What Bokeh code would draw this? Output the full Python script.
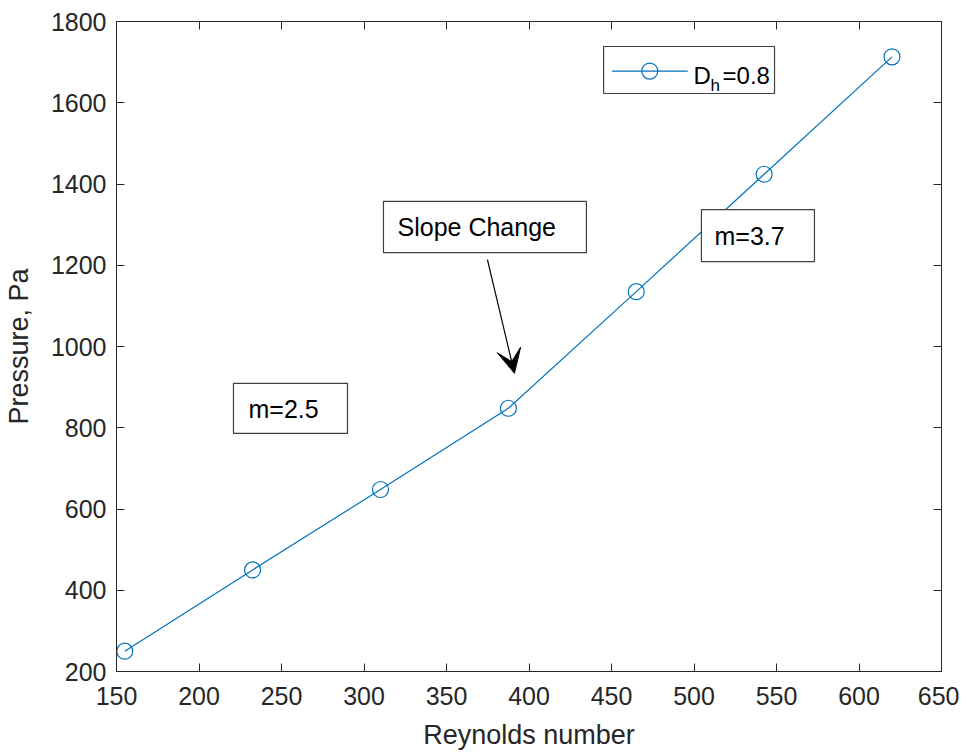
from bokeh.plotting import figure
from bokeh.models import (Range1d, FixedTicker, LinearAxis, CustomJSTickFormatter,
                          BoxAnnotation, Label, Arrow, VeeHead, ColumnDataSource)
from bokeh.embed import file_html
from bokeh.resources import INLINE

# ---- data ----
reynolds = [155, 232.5, 310, 387.5, 465, 542.5, 620]
pressure = [250, 450, 648, 848, 1135, 1424, 1713]
x_ticks = [150, 200, 250, 300, 350, 400, 450, 500, 550, 600, 650]
y_ticks = [200, 400, 600, 800, 1000, 1200, 1400, 1600, 1800]
series_name = "D"
series_sub = "h"
series_value = "=0.8"
note_left = "m=2.5"
note_right = "m=3.7"
note_arrow = "Slope Change"

FONT = "Liberation Sans"
AX = "#262626"
BLUE = "#0072BD"

p = figure(width=959, height=753, output_backend="svg", toolbar_location=None,
           x_range=Range1d(150, 650), y_range=Range1d(200, 1800),
           min_border_left=116, min_border_top=21, min_border_right=18, min_border_bottom=82)
p.grid.visible = False
p.outline_line_color = AX
p.outline_line_width = 1
p.background_fill_color = "white"
p.border_fill_color = "white"

def style_axis(ax, ticks):
    ax.ticker = FixedTicker(ticks=ticks)
    ax.axis_line_color = AX
    ax.major_tick_line_color = AX
    ax.major_tick_in = 8
    ax.major_tick_out = 0
    ax.minor_tick_line_color = None
    ax.major_label_text_font = FONT
    ax.major_label_text_font_size = "25px"
    ax.major_label_text_color = AX
    ax.axis_label_text_font = FONT
    ax.axis_label_text_font_size = "27px"
    ax.axis_label_text_font_style = "normal"
    ax.axis_label_text_color = AX

style_axis(p.xaxis[0], x_ticks)
style_axis(p.yaxis[0], y_ticks)
p.xaxis[0].axis_label = "Reynolds number"
p.yaxis[0].axis_label = "Pressure, Pa"
p.xaxis[0].major_label_standoff = 15
p.yaxis[0].major_label_standoff = 10
p.xaxis[0].axis_label_standoff = 12
p.yaxis[0].axis_label_standoff = 14

top_ax = LinearAxis(formatter=CustomJSTickFormatter(code="return ''"))
right_ax = LinearAxis(formatter=CustomJSTickFormatter(code="return ''"))
style_axis(top_ax, x_ticks)
style_axis(right_ax, y_ticks)
p.add_layout(top_ax, "above")
p.add_layout(right_ax, "right")

src = ColumnDataSource(dict(x=reynolds, y=pressure))
p.line("x", "y", source=src, line_color=BLUE, line_width=1.2)
p.scatter("x", "y", source=src, marker="circle", size=16, fill_color=None,
          line_color=BLUE, line_width=1.2)

def text_box(left, right, top, bottom):
    p.add_layout(BoxAnnotation(left=left, right=right, top=top, bottom=bottom,
                               fill_color="white", fill_alpha=1.0,
                               line_color="#404040", line_width=1.2, line_alpha=1.0))

def label(x, y, text, size="25px", baseline="middle"):
    p.add_layout(Label(x=x, y=y, text=text, text_font=FONT, text_font_size=size,
                       text_color="black", text_baseline=baseline, text_align="left"))

# annotation boxes
text_box(220.9, 290.0, 909, 786)
label(230.0, 847, note_left)
text_box(504.5, 573.0, 1337, 1209)
label(512.4, 1273, note_right)
text_box(311.8, 434.8, 1357, 1231)
label(320.3, 1294, note_arrow)

p.add_layout(Arrow(x_start=374.8, y_start=1214, x_end=391.2, y_end=934,
                   line_color="black", line_width=1.2,
                   end=VeeHead(size=24, fill_color="black", line_color="black")))

# legend
text_box(445.2, 548.8, 1738.5, 1622.8)
p.line([450.4, 496.2], [1678, 1678], line_color=BLUE, line_width=1.2, level="overlay")
p.scatter([473.2], [1678], marker="circle", size=16, fill_color=None,
          line_color=BLUE, line_width=1.2, level="overlay")
label(499.7, 1667.5, series_name, size="24px", baseline="alphabetic")
label(510.0, 1643, series_sub, size="17px", baseline="alphabetic")
label(517.3, 1667.5, series_value, size="24px", baseline="alphabetic")

open("out.html", "w").write(file_html(p, INLINE))
